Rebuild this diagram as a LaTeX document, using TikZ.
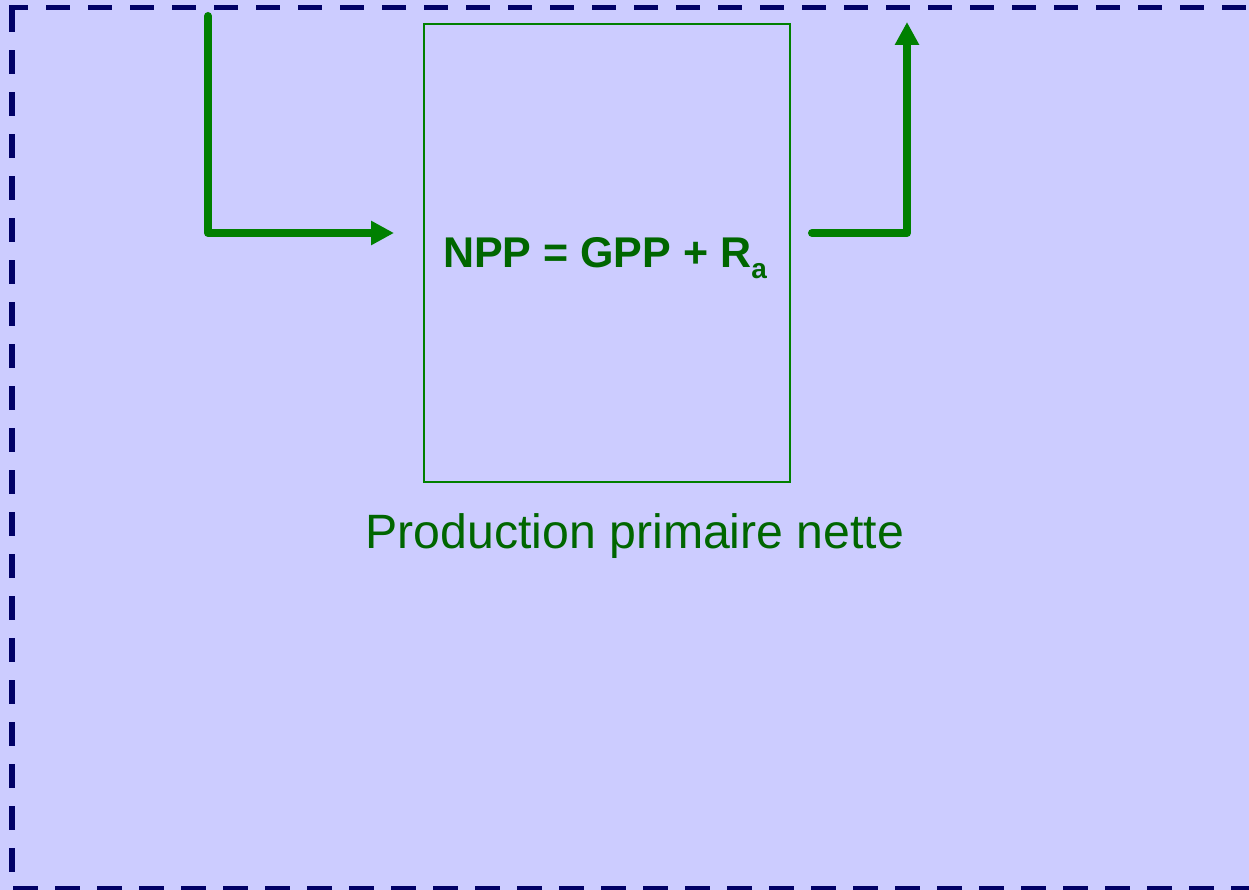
\documentclass[tikz,border=0pt]{standalone}
\usepackage{fontspec}
\setmainfont{Liberation Sans}
\usetikzlibrary{arrows.meta}
\definecolor{bg}{HTML}{CCCCFF}
\definecolor{navy}{HTML}{000066}
\definecolor{grn}{HTML}{008000}
\definecolor{dgrn}{HTML}{006600}
\tikzset{
  dashbit/.style={fill=navy},
  flow/.style={grn, line width=8pt, line cap=round, line join=round,
    -{Triangle[length=23pt,width=23pt]}},
  frame/.style={draw=grn, line width=1.8pt, minimum width=366pt, minimum height=458pt,
    inner sep=0pt, anchor=north west},
}
\begin{document}
\begin{tikzpicture}[x=1pt,y=-1pt]
\useasboundingbox (0,0) rectangle (1249,890);
\fill[bg] (0,0) rectangle (1249,890);
% dashed border (left, top, bottom)
\foreach \k in {0,...,20}{
  \fill[dashbit] (9,{8+42*\k}) rectangle (15,{32+42*\k});
}
\fill[dashbit] (9,4.6) rectangle (28,10.4);
\foreach \k in {1,...,29}{
  \fill[dashbit] ({4+42*\k},4.6) rectangle ({28+42*\k},10.4);
}
\foreach \k in {0,...,29}{
  \fill[dashbit] ({13+42*\k},886) rectangle ({37.5+42*\k},892);
}
% box
\node[frame] (box) at (423,23) {};
\node[dgrn, anchor=base, inner sep=0pt, font=\bfseries\fontsize{43}{50}\selectfont] (eq) at (605,268)
  {NPP = GPP + R\raisebox{-11pt}{\fontsize{28}{32}\selectfont a}};
\node[dgrn, anchor=base, inner sep=0pt, font=\fontsize{48.2}{56}\selectfont] (lbl) at (635,548)
  {Production primaire nette};
% connectors
\coordinate (inS) at (208,16);
\coordinate (inE) at (394,233);
\coordinate (outS) at (812,233);
\coordinate (outE) at (907,22);
\draw[flow] (inS) |- (inE);
\draw[flow] (outS) -| (outE);
\end{tikzpicture}
\end{document}
